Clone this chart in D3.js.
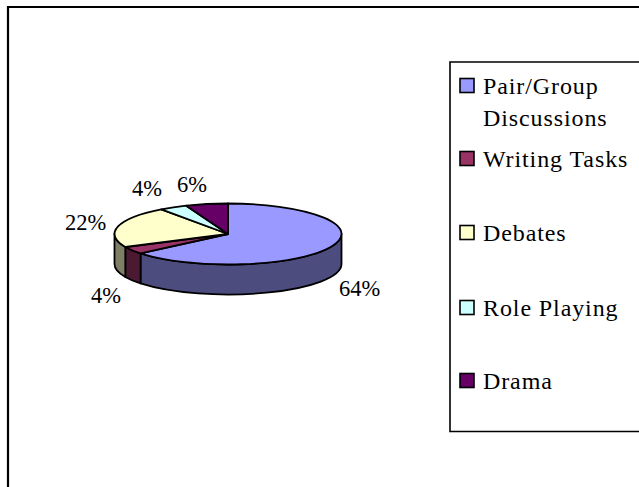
<!DOCTYPE html>
<html>
<head>
<meta charset="utf-8">
<script src="https://cdn.jsdelivr.net/npm/d3@7"></script>
<style>
html,body{margin:0;padding:0;background:#fff;overflow:hidden}
svg{display:block}
text{font-family:"Liberation Serif",serif;font-size:22.5px;fill:#000}
text.leg{font-size:24px}
</style>
</head>
<body>
<svg id="c" width="639" height="487"></svg>
<script>
const categories = ["Pair/Group Discussions", "Writing Tasks", "Debates", "Role Playing", "Drama"];
const values = [64, 4, 22, 4, 6];
const colors = ["#9999FF", "#993366", "#FFFFCC", "#CCFFFF", "#660066"];
const legendLines = [["Pair/Group", "Discussions"], ["Writing Tasks"], ["Debates"], ["Role Playing"], ["Drama"]];

const W = 639, H = 487;
const cx = 228, cy = 234, rx = 113.5, ry = 30.5, depth = 30;
const svg = d3.select("#c");

// outer frame, cut off by the window on the right and bottom
svg.append("path").attr("d", `M8,${H + 5}V7H${W + 5}`).attr("fill", "none").attr("stroke", "#000").attr("stroke-width", 2.2);

const arcs = d3.pie().sort(null).value(d => d)(values);
const px = a => cx + rx * Math.sin(a);
const py = (a, dz = 0) => cy - ry * Math.cos(a) + dz;
const fmt = n => n.toFixed(2);

// side walls: the front half of the ellipse only
const front0 = Math.PI / 2, front1 = Math.PI * 1.5;
const walls = arcs.map((d, i) => ({
  a0: Math.max(d.startAngle, front0),
  a1: Math.min(d.endAngle, front1),
  i
})).filter(d => d.a1 > d.a0);

svg.append("g").selectAll("path").data(walls).join("path")
  .attr("d", d => {
    const large = d.a1 - d.a0 > Math.PI ? 1 : 0;
    return `M${fmt(px(d.a0))},${fmt(py(d.a0))}` +
      `L${fmt(px(d.a0))},${fmt(py(d.a0, depth))}` +
      `A${rx},${ry} 0 ${large} 1 ${fmt(px(d.a1))},${fmt(py(d.a1, depth))}` +
      `L${fmt(px(d.a1))},${fmt(py(d.a1))}` +
      `A${rx},${ry} 0 ${large} 0 ${fmt(px(d.a0))},${fmt(py(d.a0))}Z`;
  })
  .attr("fill", d => d3.rgb(colors[d.i]).darker(1.95).formatHex())
  .attr("stroke", "#000").attr("stroke-width", 1.8).attr("stroke-linejoin", "round");

// top face
svg.append("g").selectAll("path").data(arcs).join("path")
  .attr("d", d => {
    const large = d.endAngle - d.startAngle > Math.PI ? 1 : 0;
    return `M${cx},${cy}L${fmt(px(d.startAngle))},${fmt(py(d.startAngle))}` +
      `A${rx},${ry} 0 ${large} 1 ${fmt(px(d.endAngle))},${fmt(py(d.endAngle))}Z`;
  })
  .attr("fill", (d, i) => colors[i])
  .attr("stroke", "#000").attr("stroke-width", 1.8).attr("stroke-linejoin", "round");

// data labels
const labelSpots = [[339, 296], [91, 303], [65, 230], [132, 196], [177, 192]];
svg.append("g").selectAll("text").data(values).join("text")
  .attr("x", (d, i) => labelSpots[i][0])
  .attr("y", (d, i) => labelSpots[i][1])
  .text(d => d + "%");

// legend
svg.append("path").attr("d", `M${W + 5},62H450V431.5H${W + 5}`).attr("fill", "#fff").attr("stroke", "#000").attr("stroke-width", 1.6);
const legendBaselines = [94, 167, 241, 316, 389];
const legendRow = svg.append("g").selectAll("g").data(categories).join("g");
legendRow.append("rect")
  .attr("x", 460).attr("y", (d, i) => legendBaselines[i] - 15.5)
  .attr("width", 14).attr("height", 14)
  .attr("fill", (d, i) => colors[i]).attr("stroke", "#000").attr("stroke-width", 1.6);
legendRow.selectAll("text").data((d, i) => legendLines[i].map((t, k) => ({ t, k, i }))).join("text")
  .attr("class", "leg")
  .attr("x", 483).attr("y", d => legendBaselines[d.i] + d.k * 32)
  .attr("letter-spacing", 0.9)
  .text(d => d.t);
</script>
</body>
</html>
